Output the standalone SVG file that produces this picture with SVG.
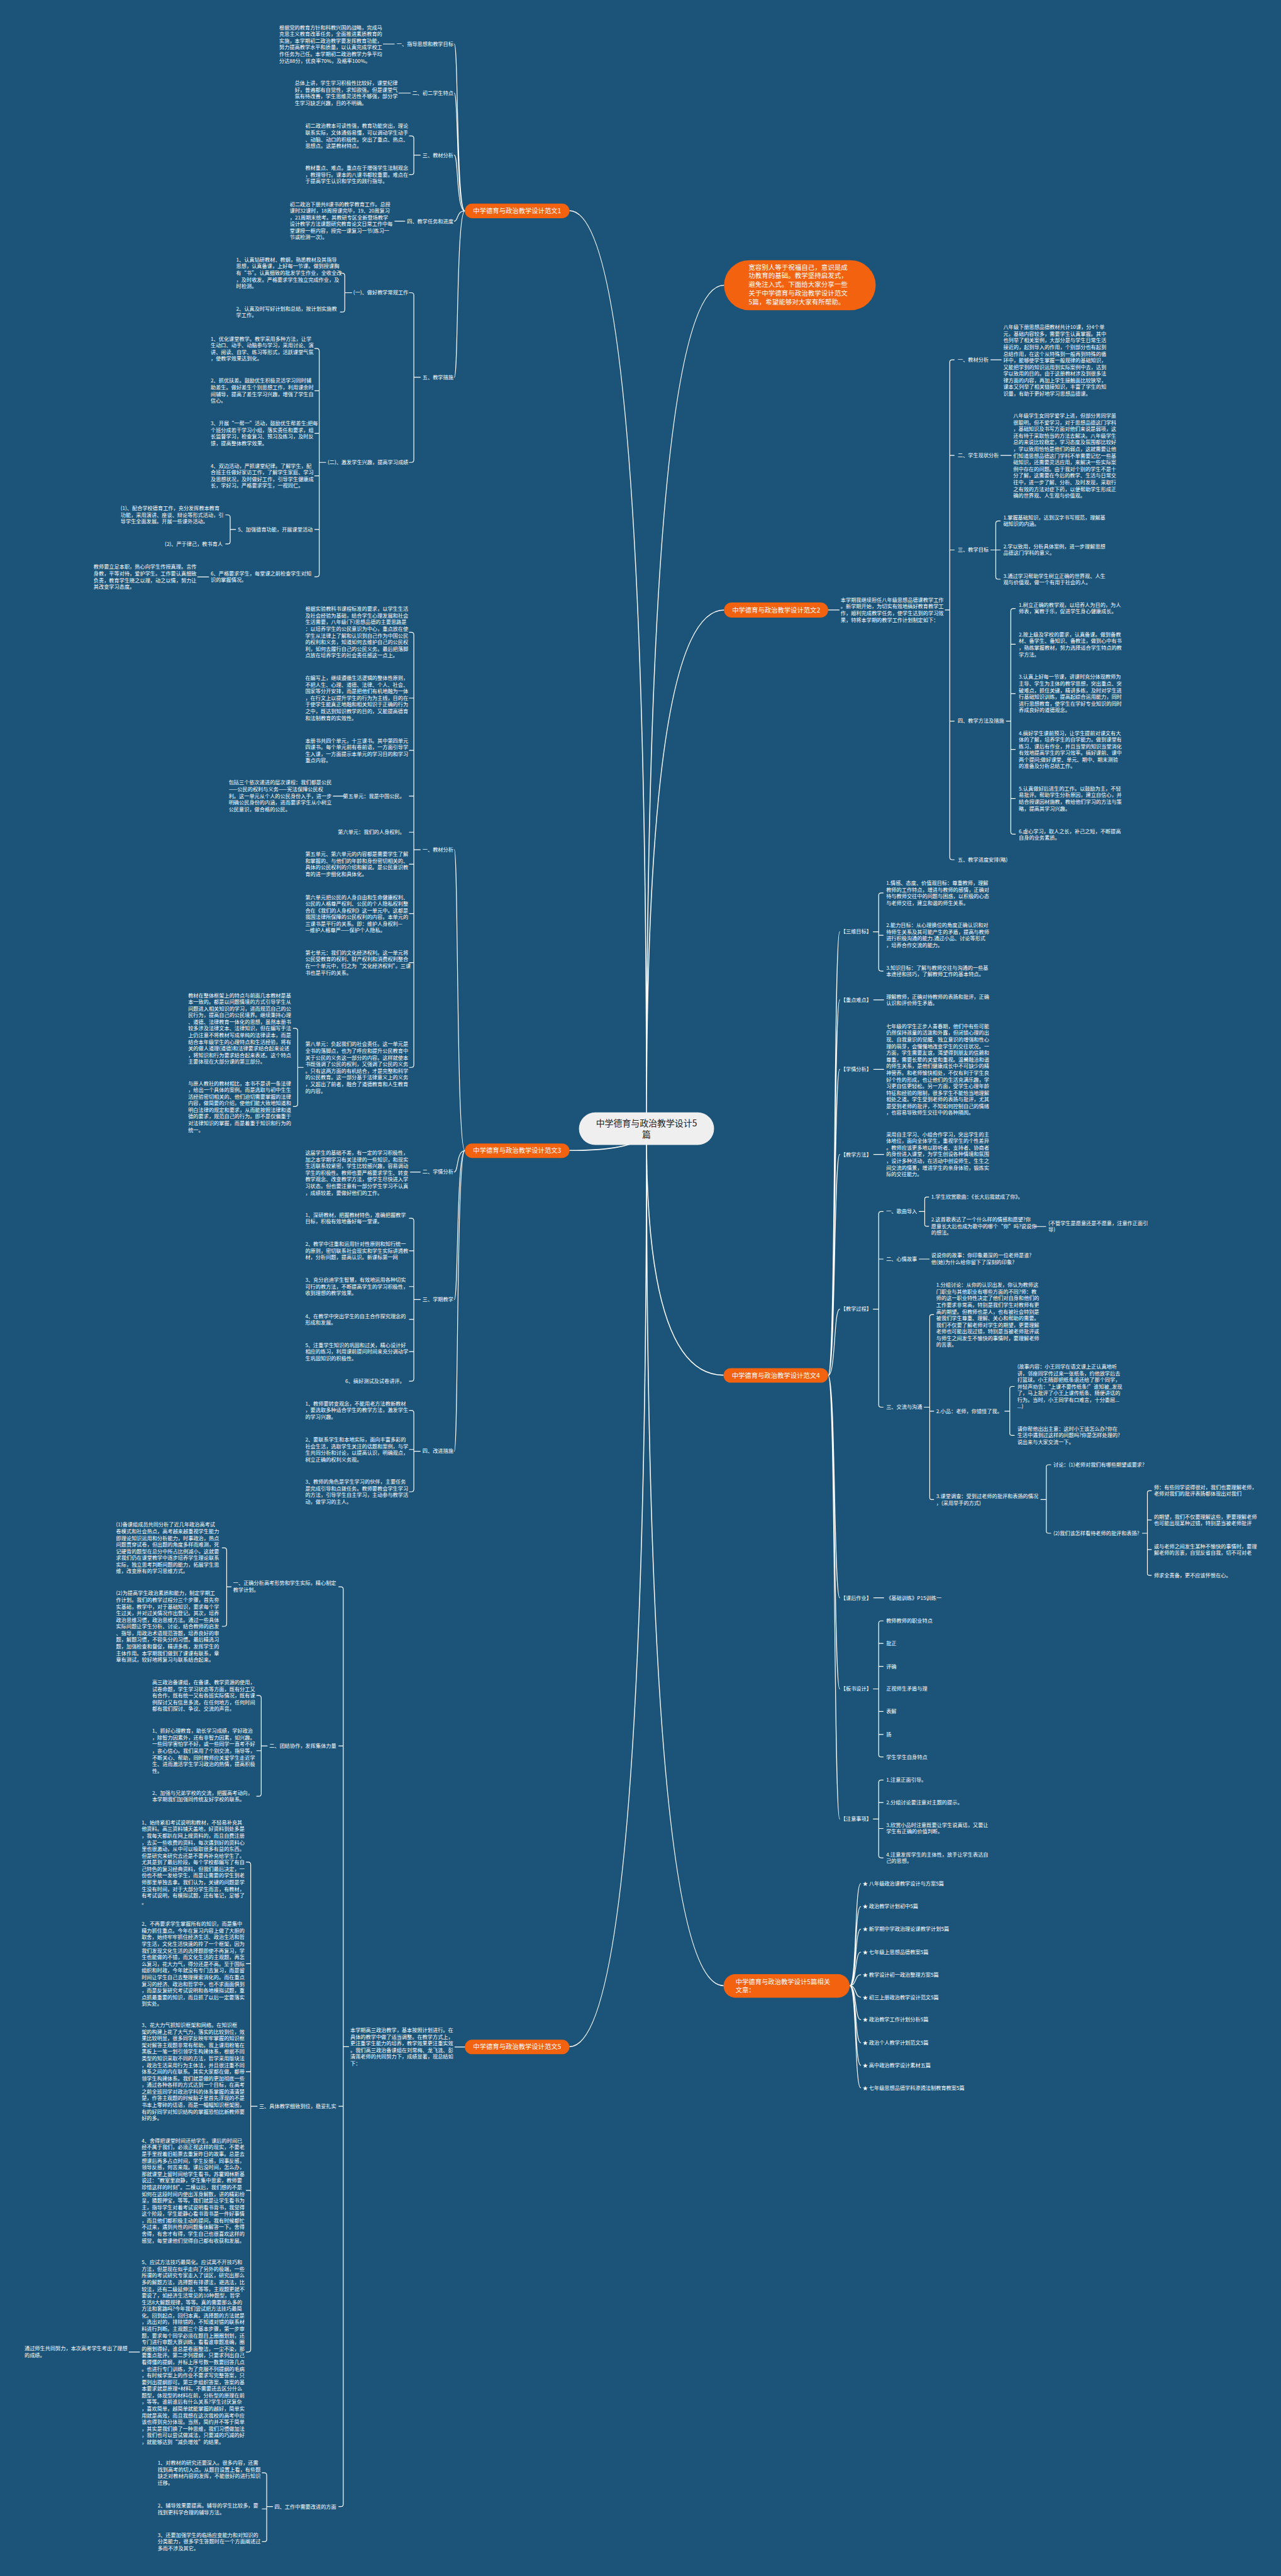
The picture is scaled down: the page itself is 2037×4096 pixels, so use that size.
<svg xmlns="http://www.w3.org/2000/svg" width="2037" height="4096" viewBox="0 0 2037 4096">
<style>
.t{font-family:"Noto Sans CJK SC","Noto Sans",sans-serif;font-size:10.3px;fill:#fff}
.b{font-family:"Noto Sans CJK SC","Noto Sans",sans-serif;font-size:13px;fill:#fff}
.e{text-anchor:end}
.mid{text-anchor:middle}
.c{fill:none;stroke:#fff;stroke-width:1.5;stroke-linecap:round;stroke-linejoin:round}
.m{fill:none;stroke:#fff;stroke-width:2}
.o{fill:#f2620f}
</style>
<rect width="2037" height="4096" fill="#1b5478"/>
<g transform="scale(0.7957)">
<g id="connectors">
<path class="m" d="M1292 2240Q1292 570 1447 570M1292 2240Q1292 1219 1447 1219M1292 2270Q1292 2748 1446 2748M1292 2270Q1292 3968 1446 3968M1292 2240Q1292 421 1138 421M1292 2255Q1292 2299 1138 2299M1292 2270Q1292 4090 1138 4090"/>
<path class="c" d="M929 421.5C912 421.5 916 88 908 88M929 421.5C912 421.5 916 186 908 186M929 421.5C912 421.5 916 310 908 310M929 421.5C912 421.5 916 442 908 442M929 421.5C912 421.5 916 754 908 754"/>
<path class="c" d="M766 88H788M797 186H820M789 442H809M395 1153H417"/>
<path class="c" d="M840 310H827M818 271.5H822Q827 271.5 827 276.5V344Q827 349 822 349H818"/>
<path class="c" d="M840 754H827M818 585H822Q827 585 827 590V919Q827 924 822 924H818"/>
<path class="c" d="M703 585H689M680 546H684Q689 546 689 551V618.5Q689 623.5 684 623.5H680"/>
<path class="c" d="M651 924H638M629 696.5H633Q638 696.5 638 701.5V1147.5Q638 1152.5 633 1152.5H629M638 781H629M638 866H629M638 951H629M638 1058H629"/>
<path class="c" d="M471 1058H460M451 1029H455Q460 1029 460 1034V1082Q460 1087 455 1087H451"/>
<path class="c" d="M929 2299.5C912 2299.5 916 1698 908 1698M929 2299.5C912 2299.5 916 2342 908 2342M929 2299.5C912 2299.5 916 2597 908 2597M929 2299.5C912 2299.5 916 2900 908 2900"/>
<path class="c" d="M840 1698H827M818 1263.5H822Q827 1263.5 827 1268.5V2128Q827 2133 822 2133H818M827 1395H818M827 1499.5H818M827 1591H818M827 1663H818M827 1727H818M827 1825.5H818M827 1923.5H818"/>
<path class="c" d="M666 1591H688"/>
<path class="c" d="M606 2133H595M586 2055H590Q595 2055 595 2060V2206Q595 2211 590 2211H586"/>
<path class="c" d="M820 2342H840"/>
<path class="c" d="M840 2597H827M818 2434.5H822Q827 2434.5 827 2439.5V2755Q827 2760 822 2760H818M827 2499.5H818M827 2571H818M827 2636.5H818M827 2701H818"/>
<path class="c" d="M840 2900H827M818 2818.5H822Q827 2818.5 827 2823.5V2976Q827 2981 822 2981H818M827 2896.5H818"/>
<path class="c" d="M929 4090.5H909"/>
<path class="c" d="M697 4090H686M677 3171H681Q686 3171 686 3176V5004Q686 5009 681 5009H677M686 3489H677M686 4209H677"/>
<path class="c" d="M462 3171H453M444 3093H448Q453 3093 453 3098V3245Q453 3250 448 3250H444"/>
<path class="c" d="M534 3489H522M513 3388H517Q522 3388 522 3393V3584.5Q522 3589.5 517 3589.5H513M522 3498.5H513"/>
<path class="c" d="M514 4209H501M492 3721H496Q501 3721 501 3726V4695Q501 4700 496 4700H492M501 3924H492M501 4140H492M501 4377H492"/>
<path class="c" d="M258 4700H279"/>
<path class="c" d="M545 5009H533M524 4941.5H528Q533 4941.5 533 4946.5V5074Q533 5079 528 5079H524M533 5013.5H524"/>
<path class="c" d="M1655 1219H1677"/>
<path class="c" d="M1889 1219H1898M1907 719H1903Q1898 719 1898 724V1713Q1898 1718 1903 1718H1907M1898 910H1907M1898 1099H1907M1898 1441H1907"/>
<path class="c" d="M1980 719H2001M2000 910H2021"/>
<path class="c" d="M1980 1099H1990M1999 1041H1995Q1990 1041 1990 1046V1152.5Q1990 1157.5 1995 1157.5H1999M1990 1099H1999"/>
<path class="c" d="M2011 1441H2020M2029 1216H2025Q2020 1216 2020 1221V1662Q2020 1667 2025 1667H2029M2020 1287.5H2029M2020 1386H2029M2020 1497.5H2029M2020 1595.5H2029"/>
<path class="c" d="M1655 2748.5C1670 2748.5 1666 1862 1678 1862M1655 2748.5C1670 2748.5 1666 1998 1678 1998M1655 2748.5C1670 2748.5 1666 2137 1678 2137M1655 2748.5C1670 2748.5 1666 2307 1678 2307M1655 2748.5C1670 2748.5 1666 2616 1678 2616M1655 2748.5C1670 2748.5 1666 3193 1678 3193M1655 2748.5C1670 2748.5 1666 3375 1678 3375M1655 2748.5C1670 2748.5 1666 3635 1678 3635"/>
<path class="c" d="M1745 1862H1756M1765 1784.5H1761Q1756 1784.5 1756 1789.5V1935.5Q1756 1940.5 1761 1940.5H1765M1756 1869H1765"/>
<path class="c" d="M1746 1998H1766M1746 2137H1766M1746 2307H1766M1746 3193H1766"/>
<path class="c" d="M1745 2616H1756M1765 2421H1761Q1756 2421 1756 2426V2807Q1756 2812 1761 2812H1765M1756 2516H1765"/>
<path class="c" d="M1837 2421H1848M1856 2392H1852Q1848 2392 1848 2396V2446.5Q1848 2450.5 1852 2450.5H1856"/>
<path class="c" d="M2067 2451H2090M1837 2516H1857"/>
<path class="c" d="M1847 2812H1858M1866 2627H1862Q1858 2627 1858 2631V2992.5Q1858 2996.5 1862 2996.5H1866M1858 2820H1866"/>
<path class="c" d="M2008 2820H2018M2027 2770.5H2023Q2018 2770.5 2018 2774.5V2864.5Q2018 2868.5 2023 2868.5H2027"/>
<path class="c" d="M2080 2996.5H2091M2100 2927H2096Q2091 2927 2091 2931V3060Q2091 3064 2096 3064H2100"/>
<path class="c" d="M2283 3064H2293M2301 2979H2297Q2293 2979 2293 2983V3144Q2293 3148 2297 3148H2301M2293 3037.5H2301M2293 3096.5H2301"/>
<path class="c" d="M1745 3375H1756M1765 3239H1761Q1756 3239 1756 3244V3506Q1756 3511 1761 3511H1765M1756 3284H1765M1756 3330H1765M1756 3420H1765M1756 3466H1765"/>
<path class="c" d="M1745 3635H1756M1765 3557H1761Q1756 3557 1756 3562V3707.5Q1756 3712.5 1761 3712.5H1765M1756 3602H1765M1756 3654H1765"/>
<path class="c" d="M1698 3968C1712 3968 1708 3764 1720 3764M1698 3968C1712 3968 1708 3810 1720 3810M1698 3968C1712 3968 1708 3855 1720 3855M1698 3968C1712 3968 1708 3901 1720 3901M1698 3968C1712 3968 1708 3946 1720 3946M1698 3968C1712 3968 1708 3991 1720 3991M1698 3968C1712 3968 1708 4036 1720 4036M1698 3968C1712 3968 1708 4082 1720 4082M1698 3968C1712 3968 1708 4127 1720 4127M1698 3968C1712 3968 1708 4172 1720 4172"/>
</g>

<g id="center"><rect x="1157" y="2223" width="270" height="65" rx="32.5" fill="#efefef"/><text x="1292" y="2251" class="mid" style="font-family:'Noto Sans CJK SC',sans-serif;font-size:17.5px;fill:#222"><tspan x="1292">中学德育与政治教学设计5</tspan><tspan x="1292" dy="23">篇</tspan></text></g>

<g id="intro"><rect x="1447" y="520" width="303" height="100" rx="50" class="o"/><text style="font-family:'Noto Sans CJK SC',sans-serif;font-size:13.2px;fill:#fff" x="1496" y="538.6"><tspan x="1496">宽容别人等于祝福自己，意识是成</tspan><tspan x="1496" dy="17.5">功教育的基础。教学坚持启发式，</tspan><tspan x="1496" dy="17.5">避免注入式。下面给大家分享一些</tspan><tspan x="1496" dy="17.5">关于中学德育与政治教学设计范文</tspan><tspan x="1496" dy="17.5">5篇，希望能够对大家有所帮助。</tspan></text></g>

<g id="fan1"><rect x="929" y="407" width="209" height="29" rx="14.5" class="o"/><text class="b mid" x="1033.5" y="426">中学德育与政治教学设计范文1</text></g>
<g id="f1-l1"><text class="t e" x="906" y="91.6">一、指导思想和教学目标</text></g>
<g id="f1-l2"><text class="t e" x="906" y="189.6">二、初二学生特点</text></g>
<g id="f1-l3"><text class="t e" x="906" y="313.6">三、教材分析</text></g>
<g id="f1-l4"><text class="t e" x="906" y="445.6">四、教学任务和进度</text></g>
<g id="f1-l5"><text class="t e" x="906" y="757.6">五、教学措施</text></g>
<g id="f1-b1"><text class="t" x="558" y="58.6"><tspan x="558">根据党的教育方针和科教兴国的战略，完成马</tspan><tspan x="558" dy="13.3">克思主义教育改革任务，全面推进素质教育的</tspan><tspan x="558" dy="13.3">实施，本学期初二政治教学要发挥教育功能，</tspan><tspan x="558" dy="13.3">努力提高教学水平和质量，以认真完成学校工</tspan><tspan x="558" dy="13.3">作任务为己任。本学期初二政治教学力争平均</tspan><tspan x="558" dy="13.3">分达88分，优良率70%，及格率100%。</tspan></text></g>
<g id="f1-b2"><text class="t" x="589" y="169.6"><tspan x="589">总体上讲，学生学习积极性比较好，课堂纪律</tspan><tspan x="589" dy="13.3">好，普遍都有自觉性，求知欲强。但是课堂气</tspan><tspan x="589" dy="13.3">氛有待改善，学生思维灵活性不够强，部分学</tspan><tspan x="589" dy="13.3">生学习缺乏兴趣，目的不明确。</tspan></text></g>
<g id="f1-b3a"><text class="t" x="610" y="255.6"><tspan x="610">初二政治教本可读性强，教育功能突出，理论</tspan><tspan x="610" dy="13.3">联系实际，文体通俗易懂，可以调动学生动手</tspan><tspan x="610" dy="13.3">、动脑、动口的积极性。突出了重点、热点、</tspan><tspan x="610" dy="13.3">思想点。这是教材特点。</tspan></text></g>
<g id="f1-b3b"><text class="t" x="610" y="339.6"><tspan x="610">教材重点、难点。重点在于增强学生法制观念</tspan><tspan x="610" dy="13.3">，教理导行。课本的八课书都较重要。难点在</tspan><tspan x="610" dy="13.3">于提高学生认识和学生的践行指导。</tspan></text></g>
<g id="f1-b4"><text class="t" x="579" y="411.6"><tspan x="579">初二政治下册共8课书的教学教育工作。总授</tspan><tspan x="579" dy="13.3">课时32课时，18周授课完毕，19、20周复习</tspan><tspan x="579" dy="13.3">，21周期末统考。其教研专区全新登场教学</tspan><tspan x="579" dy="13.3">设计教学方法课题研究教育论文日常工作中每</tspan><tspan x="579" dy="13.3">堂课授一框内容，授完一课复习一节(练习一</tspan><tspan x="579" dy="13.3">节或检测一次)。</tspan></text></g>
<g id="f1-s1"><text class="t e" x="816" y="588.6">(一)、做好教学常规工作</text></g>
<g id="f1-s1a"><text class="t" x="472" y="522.6"><tspan x="472">1、认真钻研教材、教纲，熟悉教材及其指导</tspan><tspan x="472" dy="13.3">思想，认真备课，上好每一节课。做到授课胸</tspan><tspan x="472" dy="13.3">有“书”。认真细致的批发学生作业，全收全改</tspan><tspan x="472" dy="13.3">，及时收发。严格要求学生独立完成作业，及</tspan><tspan x="472" dy="13.3">时检测。</tspan></text></g>
<g id="f1-s1b"><text class="t" x="472" y="620.6"><tspan x="472">2、认真及时写好计划和总结，按计划实施教</tspan><tspan x="472" dy="13.3">学工作。</tspan></text></g>
<g id="f1-s2"><text class="t e" x="816" y="927.6">(二)、激发学生兴趣，提高学习成绩</text></g>
<g id="f1-s2a"><text class="t" x="421" y="680.6"><tspan x="421">1、优化课堂教学。教学采用多种方法，让学</tspan><tspan x="421" dy="13.3">生动口、动手、动脑参与学习，采用讨论、演</tspan><tspan x="421" dy="13.3">讲、阅读、自学、练习等形式，活跃课堂气氛</tspan><tspan x="421" dy="13.3">，使教学效果达到化。</tspan></text></g>
<g id="f1-s2b"><text class="t" x="421" y="764.6"><tspan x="421">2、抓优扶差。鼓励优生积极灵活学习同时辅</tspan><tspan x="421" dy="13.3">助差生。做好差生个别思想工作，利用课余时</tspan><tspan x="421" dy="13.3">间辅导，提高了差生学习兴趣，增强了学生自</tspan><tspan x="421" dy="13.3">信心。</tspan></text></g>
<g id="f1-s2c"><text class="t" x="421" y="849.6"><tspan x="421">3、开展“一帮一”活动，鼓励优生帮差生;把每</tspan><tspan x="421" dy="13.3">个班分成若干学习小组，落实责任和要求，组</tspan><tspan x="421" dy="13.3">长监督学习，检查复习、预习及练习，及时反</tspan><tspan x="421" dy="13.3">馈，提高整体教学效果。</tspan></text></g>
<g id="f1-s2d"><text class="t" x="421" y="934.6"><tspan x="421">4、双边活动，严抓课堂纪律。了解学生，配</tspan><tspan x="421" dy="13.3">合班主任做好家访工作，了解学生家庭、学习</tspan><tspan x="421" dy="13.3">及思想状况，及时做好工作，引导学生健康成</tspan><tspan x="421" dy="13.3">长，学好习。严格要求学生，一视同仁。</tspan></text></g>
<g id="f1-s2e"><text class="t e" x="625" y="1061.6">5、加强德育功能，开展课堂活动</text></g>
<g id="f1-s2e1"><text class="t" x="241" y="1019.6"><tspan x="241">(1)、配合学校德育工作，充分发挥教本教育</tspan><tspan x="241" dy="13.3">功能，采用演讲、座谈、辩论等形式活动，引</tspan><tspan x="241" dy="13.3">导学生全面发展。开展一些课外活动。</tspan></text></g>
<g id="f1-s2e2"><text class="t e" x="445" y="1090.6">(2)、严于律己，教书育人</text></g>
<g id="f1-s2f"><text class="t" x="421" y="1149.6"><tspan x="421">6、严格要求学生，每堂课之前检查学生对知</tspan><tspan x="421" dy="13.3">识的掌握情况。</tspan></text></g>
<g id="f1-s2f1"><text class="t" x="187" y="1136.6"><tspan x="187">教师要立足本职，热心向学生传授真理。言传</tspan><tspan x="187" dy="13.3">身教，平等对待，爱护学生。工作要认真细致</tspan><tspan x="187" dy="13.3">负责，教育学生晓之以理，动之以情，努力让</tspan><tspan x="187" dy="13.3">其改变学习态度。</tspan></text></g>

<g id="fan3"><rect x="929" y="2285" width="209" height="29" rx="14.5" class="o"/><text class="b mid" x="1033.5" y="2304">中学德育与政治教学设计范文3</text></g>
<g id="f3-l1"><text class="t e" x="906" y="1701.6">一、教材分析</text></g>
<g id="f3-l2"><text class="t e" x="906" y="2345.6">二、学情分析</text></g>
<g id="f3-l3"><text class="t e" x="906" y="2600.6">三、学期教学</text></g>
<g id="f3-l4"><text class="t e" x="906" y="2903.6">四、改进措施</text></g>
<g id="f3-a"><text class="t" x="610" y="1220.6"><tspan x="610">根据实验教科书课程标准的要求，以学生生活</tspan><tspan x="610" dy="13.3">及社会经验为基础，结合学生心理发展和社会</tspan><tspan x="610" dy="13.3">生活需要，八年级(下)思想品德的主要思路是</tspan><tspan x="610" dy="13.3">：以培养学生的公民意识为中心，重点放在使</tspan><tspan x="610" dy="13.3">学生从法律上了解和认识到自己作为中国公民</tspan><tspan x="610" dy="13.3">的权利和义务，知道如何去维护自己的公民权</tspan><tspan x="610" dy="13.3">利，如何去履行自己的公民义务。最后把落脚</tspan><tspan x="610" dy="13.3">点放在培养学生的社会责任感这一点上。</tspan></text></g>
<g id="f3-b"><text class="t" x="610" y="1358.6"><tspan x="610">在编写上，继续遵循生活逻辑的整体性原则，</tspan><tspan x="610" dy="13.3">不把人生、心理、道德、法律、个人、社会、</tspan><tspan x="610" dy="13.3">国家等分开安排，而是把他们有机地融为一体</tspan><tspan x="610" dy="13.3">，在行文上以提升学生的行为为主线，目的在</tspan><tspan x="610" dy="13.3">于使学生能真正地融和相关知识于正确的行为</tspan><tspan x="610" dy="13.3">之中，既达到知识教学的目的，又能提高德育</tspan><tspan x="610" dy="13.3">和法制教育的实效性。</tspan></text></g>
<g id="f3-c"><text class="t" x="610" y="1483.6"><tspan x="610">本册书共四个单元，十三课书。其中第四单元</tspan><tspan x="610" dy="13.3">四课书。每个单元前有卷前语，一方面引导学</tspan><tspan x="610" dy="13.3">生入课，一方面提示本单元的学习目的和学习</tspan><tspan x="610" dy="13.3">重点内容。</tspan></text></g>
<g id="f3-d"><text class="t e" x="809" y="1594.6">第五单元：我是中国公民。</text></g>
<g id="f3-d1"><text class="t" x="457" y="1567.6"><tspan x="457">包括三个依次递进的层次课程：我们都是公民</tspan><tspan x="457" dy="13.3">——公民的权利与义务——宪法保障公民权</tspan><tspan x="457" dy="13.3">利。这一单元从个人的公民身份入手，进一步</tspan><tspan x="457" dy="13.3">明确公民身份的内涵，进而要求学生从小树立</tspan><tspan x="457" dy="13.3">公民意识，做合格的公民。</tspan></text></g>
<g id="f3-e"><text class="t e" x="809" y="1666.6">第六单元：我们的人身权利。</text></g>
<g id="f3-f"><text class="t" x="610" y="1710.6"><tspan x="610">第五单元、第六单元的内容都是需要学生了解</tspan><tspan x="610" dy="13.3">和掌握的、与他们的年龄和身份密切相关的、</tspan><tspan x="610" dy="13.3">具体的公民权利的介绍和解说。是公民意识教</tspan><tspan x="610" dy="13.3">育的进一步细化和具体化。</tspan></text></g>
<g id="f3-g"><text class="t" x="610" y="1796.6"><tspan x="610">第六单元把公民的人身自由和生命健康权利、</tspan><tspan x="610" dy="13.3">公民的人格尊严权利、公民的个人隐私权利整</tspan><tspan x="610" dy="13.3">合在《我们的人身权利》这一单元中。这都是</tspan><tspan x="610" dy="13.3">我国法律所保障的公民权利的内容。本单元的</tspan><tspan x="610" dy="13.3">三课书是平行的关系。即：维护人身权利—</tspan><tspan x="610" dy="13.3">—维护人格尊严——保护个人隐私。</tspan></text></g>
<g id="f3-h"><text class="t" x="610" y="1907.6"><tspan x="610">第七单元：我们的文化经济权利。这一单元将</tspan><tspan x="610" dy="13.3">公民受教育的权利、财产权利和消费权利整合</tspan><tspan x="610" dy="13.3">在一个单元中，归之为“文化经济权利”。三课</tspan><tspan x="610" dy="13.3">书也是平行的关系。</tspan></text></g>
<g id="f3-i"><text class="t" x="610" y="2090.6"><tspan x="610">第八单元：负起我们的社会责任。这一单元是</tspan><tspan x="610" dy="13.3">全书的落脚点，也为了呼应和提升公民教育中</tspan><tspan x="610" dy="13.3">关于公民的义务这一部分的内容。这样就使本</tspan><tspan x="610" dy="13.3">书既强调了公民的权利，又强调了公民的义务</tspan><tspan x="610" dy="13.3">。只有这两方面的有机结合，才是完整和科学</tspan><tspan x="610" dy="13.3">的公民教育。这一部分基于法律意义上的义务</tspan><tspan x="610" dy="13.3">，又超出了前者，融合了道德教育和人生教育</tspan><tspan x="610" dy="13.3">的内容。</tspan></text></g>
<g id="f3-i1"><text class="t" x="376" y="1992.6"><tspan x="376">教材在整体框架上的特点与前面几本教材是基</tspan><tspan x="376" dy="13.3">本一致的。都是以问题情境的方式引导学生从</tspan><tspan x="376" dy="13.3">问题进入相关知识的学习，进而规范自己的公</tspan><tspan x="376" dy="13.3">民行为，提高自己的公民境界。继续秉持心理</tspan><tspan x="376" dy="13.3">、道德、法律教育一体化的思想，虽然本册书</tspan><tspan x="376" dy="13.3">较多涉及法律文本、法律知识，但在编写手法</tspan><tspan x="376" dy="13.3">上仍注意不将教材写成单纯的法律读本，而是</tspan><tspan x="376" dy="13.3">结合本年级学生的心理特点和生活经验，将有</tspan><tspan x="376" dy="13.3">关的做人道理(道德)和法律要求结合起来论述</tspan><tspan x="376" dy="13.3">，将知识和行为要求结合起来表述。这个特点</tspan><tspan x="376" dy="13.3">主要体现在大部分课的第三部分。</tspan></text></g>
<g id="f3-i2"><text class="t" x="376" y="2168.6"><tspan x="376">与原人教社的教材相比，本书不是讲一条法律</tspan><tspan x="376" dy="13.3">，给出一个具体的案例。而是选取与初中生生</tspan><tspan x="376" dy="13.3">活经验密切相关的、他们迫切需要掌握的法律</tspan><tspan x="376" dy="13.3">内容，做简要的介绍，使他们能大致地知道和</tspan><tspan x="376" dy="13.3">明白法律的规定和要求，从而能按照法律和道</tspan><tspan x="376" dy="13.3">德的要求，规范自己的行为。即不是仅偏重于</tspan><tspan x="376" dy="13.3">对法律知识的掌握，而是着重于知识和行为的</tspan><tspan x="376" dy="13.3">统一。</tspan></text></g>
<g id="f3-2a"><text class="t" x="610" y="2307.6"><tspan x="610">这届学生的基础不差，有一定的学习积极性，</tspan><tspan x="610" dy="13.3">加之本学期学习有关法律的一些知识，和现实</tspan><tspan x="610" dy="13.3">生活联系较紧密，学生比较感兴趣，容易调动</tspan><tspan x="610" dy="13.3">学生的积极性。教师也要严格要求学生、转变</tspan><tspan x="610" dy="13.3">教学观念、改变教学方法，使学生尽快进入学</tspan><tspan x="610" dy="13.3">习状态。但也要注意有一部分学生学习不认真</tspan><tspan x="610" dy="13.3">，成绩较差，要做好他们的工作。</tspan></text></g>
<g id="f3-3a"><text class="t" x="610" y="2431.6"><tspan x="610">1、深研教材，把握教材特色，准确把握教学</tspan><tspan x="610" dy="13.3">目标，积极有效地备好每一堂课。</tspan></text></g>
<g id="f3-3b"><text class="t" x="610" y="2489.6"><tspan x="610">2、教学中注重和运用针对性原则和知行统一</tspan><tspan x="610" dy="13.3">的原则，密切联系社会现实和学生实际讲透教</tspan><tspan x="610" dy="13.3">材，分析问题，提高认识。新课标第一网</tspan></text></g>
<g id="f3-3c"><text class="t" x="610" y="2561.6"><tspan x="610">3、充分启迪学生智慧，有效地运用各种切实</tspan><tspan x="610" dy="13.3">可行的教方法，不断提高学生的学习积极性，</tspan><tspan x="610" dy="13.3">收到理想的教学效果。</tspan></text></g>
<g id="f3-3d"><text class="t" x="610" y="2633.6"><tspan x="610">4、在教学中突出学生的自主合作探究理念的</tspan><tspan x="610" dy="13.3">形成和发展。</tspan></text></g>
<g id="f3-3e"><text class="t" x="610" y="2691.6"><tspan x="610">5、注重学生知识的巩固和过关，精心设计好</tspan><tspan x="610" dy="13.3">相应的练习，利用课前提问时间来充分调动学</tspan><tspan x="610" dy="13.3">生巩固知识的积极性。</tspan></text></g>
<g id="f3-3f"><text class="t e" x="809" y="2763.6">6、搞好测试及试卷讲评。</text></g>
<g id="f3-4a"><text class="t" x="610" y="2808.6"><tspan x="610">1、教师要转变观念，不能用老方法教新教材</tspan><tspan x="610" dy="13.3">，要选取多种适合学生的教学方法，激发学生</tspan><tspan x="610" dy="13.3">的学习兴趣。</tspan></text></g>
<g id="f3-4b"><text class="t" x="610" y="2880.6"><tspan x="610">2、要联系学生和本地实际，面向丰富多彩的</tspan><tspan x="610" dy="13.3">社会生活，选取学生关注的话题和案例，与学</tspan><tspan x="610" dy="13.3">生共同分析和讨论，以提高认识，明确观点，</tspan><tspan x="610" dy="13.3">树立正确的权利义务观。</tspan></text></g>
<g id="f3-4c"><text class="t" x="610" y="2964.6"><tspan x="610">3、教师的角色是学生学习的伙伴，主要任务</tspan><tspan x="610" dy="13.3">是完成引导和点拨任务。教师要教会学生学习</tspan><tspan x="610" dy="13.3">的方法，引导学生自主学习，主动参与教学活</tspan><tspan x="610" dy="13.3">动，做学习的主人。</tspan></text></g>

<g id="fan5"><rect x="929" y="4076" width="209" height="29" rx="14.5" class="o"/><text class="b mid" x="1033.5" y="4095">中学德育与政治教学设计范文5</text></g>
<g id="f5-intro"><text class="t" x="700" y="4060.6"><tspan x="700">本学期高三政治教学，基本按照计划进行。在</tspan><tspan x="700" dy="13.3">具体的教学中做了适当调整。在教学方式上，</tspan><tspan x="700" dy="13.3">更注重学生能力的培养，教学效果更注重实效</tspan><tspan x="700" dy="13.3">。我们高三政治备课组在刘常梅、龙飞涟、彭</tspan><tspan x="700" dy="13.3">清莲老师的共同努力下，成绩显著，现总结如</tspan><tspan x="700" dy="13.3">下：</tspan></text></g>
<g id="f5-l1"><text class="t" x="466" y="3167.6"><tspan x="466">一、正确分析高考形势和学生实际，精心制定</tspan><tspan x="466" dy="13.3">教学计划。</tspan></text></g>
<g id="f5-1a"><text class="t" x="232" y="3050.6"><tspan x="232">(1)备课组成员共同分析了近几年政治高考试</tspan><tspan x="232" dy="13.3">卷模式和社会热点，高考越来越重视学生能力</tspan><tspan x="232" dy="13.3">即理论知识运用和分析能力，时事政治，热点</tspan><tspan x="232" dy="13.3">问题贯穿试卷，但出题的角度多样而难测，死</tspan><tspan x="232" dy="13.3">记硬背的题型在总分中所占比例减小，这就要</tspan><tspan x="232" dy="13.3">求我们仍在课堂教学中逐步培养学生理论联系</tspan><tspan x="232" dy="13.3">实际，独立思考判断问题的能力，拓展学生思</tspan><tspan x="232" dy="13.3">维，改变原有的学习思维方式。</tspan></text></g>
<g id="f5-1b"><text class="t" x="232" y="3187.6"><tspan x="232">(2)为提高学生政治素质和能力，制定学期工</tspan><tspan x="232" dy="13.3">作计划。我们的教学过程分三个步骤，首先夯</tspan><tspan x="232" dy="13.3">实基础，教学中，对于基础知识，要求每个学</tspan><tspan x="232" dy="13.3">生过关，并对过关情况作出登记。其次，培养</tspan><tspan x="232" dy="13.3">政治思维习惯，政治思维方法。通过一些具体</tspan><tspan x="232" dy="13.3">实际问题让学生分析、讨论，结合教师的启发</tspan><tspan x="232" dy="13.3">、指导，用政治术语规范答题，培养良好的审</tspan><tspan x="232" dy="13.3">题，解题习惯，不容失分的习惯。最后精选习</tspan><tspan x="232" dy="13.3">题，加强检查和督促，精讲多练，发挥学生的</tspan><tspan x="232" dy="13.3">主体作用。本学期我们做到了课课有联系，章</tspan><tspan x="232" dy="13.3">章有测试，较好地将复习与联系结合起来。</tspan></text></g>
<g id="f5-l2"><text class="t e" x="672" y="3492.6">二、团结协作，发挥集体力量</text></g>
<g id="f5-2a"><text class="t" x="304" y="3365.6"><tspan x="304">高三政治备课组，在备课、教学资源的使用，</tspan><tspan x="304" dy="13.3">试卷命题，学生学习状态等方面，既有分工又</tspan><tspan x="304" dy="13.3">有合作，既有统一又有各班实际情况，既有课</tspan><tspan x="304" dy="13.3">例探讨又有信息多流，在任何地方，任何时间</tspan><tspan x="304" dy="13.3">都有我们探讨、争议、交流的声音。</tspan></text></g>
<g id="f5-2b"><text class="t" x="304" y="3462.6"><tspan x="304">1、抓好心理教育，助长学习成绩，学好政治</tspan><tspan x="304" dy="13.3">，除智力因素外，还有非智力因素，如兴趣。</tspan><tspan x="304" dy="13.3">一些同学害怕学不好，或一些同学一直考不好</tspan><tspan x="304" dy="13.3">，丧心信心。我们采用了个别交流，指导等，</tspan><tspan x="304" dy="13.3">不断关心、帮助，同时教师应关爱学生走近学</tspan><tspan x="304" dy="13.3">生、进而激活学生学习政治的热情，提高积极</tspan><tspan x="304" dy="13.3">性。</tspan></text></g>
<g id="f5-2c"><text class="t" x="304" y="3586.6"><tspan x="304">2、加强与兄弟学校的交流，把握高考动向，</tspan><tspan x="304" dy="13.3">本学期我们加强同传统友好学校的联系。</tspan></text></g>
<g id="f5-l3"><text class="t e" x="672" y="4212.6">三、具体教学细致到位，稳妥扎实</text></g>
<g id="f5-3a"><text class="t" x="283" y="3645.6"><tspan x="283">1、始终紧扣考试说明和教材，不轻易补充其</tspan><tspan x="283" dy="13.3">他资料。高三资料铺天盖地，好资料到处多是</tspan><tspan x="283" dy="13.3">，我每天都趴在网上搜资料的，而且自费注册</tspan><tspan x="283" dy="13.3">，去买一些收费的资料，每次遇到好的资料心</tspan><tspan x="283" dy="13.3">里也很激动，从中可以吸取很多有益的东西。</tspan><tspan x="283" dy="13.3">但是研究来研究去还是不要再补充给学生了。</tspan><tspan x="283" dy="13.3">尤其是到了最后阶段，每个学校都编写了有自</tspan><tspan x="283" dy="13.3">己特色的复习经典资料，但我们最后决定，一</tspan><tspan x="283" dy="13.3">份也不统一发给学生，而是让需要的学生到老</tspan><tspan x="283" dy="13.3">师那里单独去拿。我们认为，关键的问题是学</tspan><tspan x="283" dy="13.3">生没有时间，对于大部分学生而言，有教材，</tspan><tspan x="283" dy="13.3">有考试说明，有模拟试题，还有笔记，足够了</tspan><tspan x="283" dy="13.3">。</tspan></text></g>
<g id="f5-3b"><text class="t" x="283" y="3848.6"><tspan x="283">2、不再要求学生掌握所有的知识，而是集中</tspan><tspan x="283" dy="13.3">精力抓住重点。今年在复习内容上做了大胆的</tspan><tspan x="283" dy="13.3">取舍，始终牢牢抓住经济生活、政治生活和哲</tspan><tspan x="283" dy="13.3">学生活，文化生活快速的拎了一个框架，因为</tspan><tspan x="283" dy="13.3">我们发现文化生活的选择题即使不再复习，学</tspan><tspan x="283" dy="13.3">生也能做的不错，而文化生活的主观题，再怎</tspan><tspan x="283" dy="13.3">么复习，花大力气，得分还是不高。至于国际</tspan><tspan x="283" dy="13.3">组织和时政，今年就没有专门去复习，而是留</tspan><tspan x="283" dy="13.3">时间让学生自己去整理摸索消化的。而在重点</tspan><tspan x="283" dy="13.3">复习的经济、政治和哲学中，也不求面面俱到</tspan><tspan x="283" dy="13.3">，而是反复研究考试说明和各地模拟试题，重</tspan><tspan x="283" dy="13.3">点抓最重要的知识，而且抓了以后一定要落实</tspan><tspan x="283" dy="13.3">到实处。</tspan></text></g>
<g id="f5-3c"><text class="t" x="283" y="4050.6"><tspan x="283">3、花大力气抓知识框架和网络。在知识框</tspan><tspan x="283" dy="13.3">架的构建上花了大气力，落实的比较到位，效</tspan><tspan x="283" dy="13.3">果比较明显，很多同学反映牢牢掌握的知识框</tspan><tspan x="283" dy="13.3">架对解答主观题非常有帮助。我上课用粉笔在</tspan><tspan x="283" dy="13.3">黑板上一笔一划引领学生构建体系，根据不同</tspan><tspan x="283" dy="13.3">类型的知识采取不同的方法，哲学采用版块法</tspan><tspan x="283" dy="13.3">，政治生活采用行为主体法，并且很注重不同</tspan><tspan x="283" dy="13.3">体系之间的内在联系。其实大家都在做，都带</tspan><tspan x="283" dy="13.3">领学生构建体系。我们就是做的更加彻底一些</tspan><tspan x="283" dy="13.3">，通过各种各样的方式达到一个目标，在高考</tspan><tspan x="283" dy="13.3">之前全班同学对政治学科的体系掌握的清清楚</tspan><tspan x="283" dy="13.3">楚，作答主观题的时候脑子里首先浮现的不是</tspan><tspan x="283" dy="13.3">书本上零碎的话语，而是一幅幅知识框架图，</tspan><tspan x="283" dy="13.3">有的好同学对知识结构的掌握恐怕比新教师要</tspan><tspan x="283" dy="13.3">好的多。</tspan></text></g>
<g id="f5-3d"><text class="t" x="283" y="4281.6"><tspan x="283">4、舍得把课堂时间还给学生。课后的时间已</tspan><tspan x="283" dy="13.3">经不属于我们，必须正视这样的现实，不要老</tspan><tspan x="283" dy="13.3">是手里捏着旧船票去重复昨日的故事。总是去</tspan><tspan x="283" dy="13.3">想课后再多占点时间，学生反感，同事反感，</tspan><tspan x="283" dy="13.3">领导反感，何苦来哉。课后没时间，怎么办，</tspan><tspan x="283" dy="13.3">那就课堂上留时间给学生看书，苏霍姆林斯基</tspan><tspan x="283" dy="13.3">说过：“教室里寂静，学生集中思索，教师要</tspan><tspan x="283" dy="13.3">珍惜这样的时刻”。二模以后，我们想的不是</tspan><tspan x="283" dy="13.3">如何在这段时间内使出浑身解数，讲的精彩纷</tspan><tspan x="283" dy="13.3">呈，猜题押宝，等等。我们就是让学生看书为</tspan><tspan x="283" dy="13.3">主，指导学生对着考试说明看书背书，我觉得</tspan><tspan x="283" dy="13.3">这个阶段，学生能静心看书背书是一件好事情</tspan><tspan x="283" dy="13.3">，而且他们都积极主动的提问，我有时候都忙</tspan><tspan x="283" dy="13.3">不过来，遇到共性的问题集体解答一下。舍得</tspan><tspan x="283" dy="13.3">舍得，有舍才有得，学生自己也很喜欢这样的</tspan><tspan x="283" dy="13.3">感觉，每堂课他们觉得自己都有收获和发展。</tspan></text></g>
<g id="f5-3e"><text class="t" x="283" y="4524.6"><tspan x="283">5、应试方法技巧最简化。应试离不开技巧和</tspan><tspan x="283" dy="13.3">方法，但是现在似乎走向了另外的极端，一些</tspan><tspan x="283" dy="13.3">所谓的考试研究专家走入了误区，研究出那么</tspan><tspan x="283" dy="13.3">多的解题方法，选择题有排谬法，避选法，比</tspan><tspan x="283" dy="13.3">较法，还有二级延伸法，等等，主观题更就不</tspan><tspan x="283" dy="13.3">要说了，如经济生活常见的10种题型，哲学</tspan><tspan x="283" dy="13.3">生活8大解题规律，等等。真的需要那么多的</tspan><tspan x="283" dy="13.3">方法和套路吗?今年我们尝试把方法技巧最简</tspan><tspan x="283" dy="13.3">化。回到起点，回归本真。选择题的方法就是</tspan><tspan x="283" dy="13.3">，选出对的，排除错的，不知道对错的联系材</tspan><tspan x="283" dy="13.3">料进行判断。主观题三个基本步骤，第一步审</tspan><tspan x="283" dy="13.3">题，要求每个同学必须在题目上圈圈划划，还</tspan><tspan x="283" dy="13.3">专门进行审题大赛训练，看看谁审题准确，圈</tspan><tspan x="283" dy="13.3">的圈划得好，谁总是卷面整洁，一尘不染，那</tspan><tspan x="283" dy="13.3">要重点批评。第二步列提纲，只要求列出自己</tspan><tspan x="283" dy="13.3">看得懂的提纲，并标上序号数一数要回答几点</tspan><tspan x="283" dy="13.3">。也进行专门训练，为了克服不列提纲的毛病</tspan><tspan x="283" dy="13.3">，有时候学案上的作业不要求写完整答案，只</tspan><tspan x="283" dy="13.3">要列出提纲即可。第三步组织答案，答案的基</tspan><tspan x="283" dy="13.3">本要求就是原理+材料。不需要还去区分什么</tspan><tspan x="283" dy="13.3">题型，体现型的材料在前，分析型的原理在前</tspan><tspan x="283" dy="13.3">，等等。谁前谁后有什么关系?学生讨厌复杂</tspan><tspan x="283" dy="13.3">，喜欢简单，越简单就能掌握的越好，简单实</tspan><tspan x="283" dy="13.3">用就是高效，而且我想在这次我校的高考中应</tspan><tspan x="283" dy="13.3">该也得到充分体现。当然，简约并不等于简单</tspan><tspan x="283" dy="13.3">，其实是我们换了一种思维，我们习惯做加法</tspan><tspan x="283" dy="13.3">，我们也可以尝试做减法，只要减的巧减的好</tspan><tspan x="283" dy="13.3">，就能够达到“减负增效”的结果。</tspan></text></g>
<g id="f5-3e1"><text class="t" x="49" y="4696.6"><tspan x="49">通过师生共同努力，本次高考学生考出了理想</tspan><tspan x="49" dy="13.3">的成绩。</tspan></text></g>
<g id="f5-l4"><text class="t e" x="672" y="5012.6">四、工作中需要改进的方面</text></g>
<g id="f5-4a"><text class="t" x="315" y="4925.6"><tspan x="315">1、对教材的研究还要深入。很多内容，还需</tspan><tspan x="315" dy="13.3">找到高考的切入点。从题目设置上看，有些题</tspan><tspan x="315" dy="13.3">缺乏对教材内容的发挥，不能很好的进行知识</tspan><tspan x="315" dy="13.3">迁移。</tspan></text></g>
<g id="f5-4b"><text class="t" x="315" y="5010.6"><tspan x="315">2、辅导效果要提高。辅导的学生比较多，要</tspan><tspan x="315" dy="13.3">找到更科学合理的辅导方法。</tspan></text></g>
<g id="f5-4c"><text class="t" x="315" y="5069.6"><tspan x="315">3、还要加强学生的临场应变能力和对知识的</tspan><tspan x="315" dy="13.3">分类能力，很多学生答题时在一个方面阐述过</tspan><tspan x="315" dy="13.3">多而不涉及其它。</tspan></text></g>

<g id="fan2"><rect x="1447" y="1204" width="208" height="30" rx="15" class="o"/><text class="b mid" x="1551" y="1223.5">中学德育与政治教学设计范文2</text></g>
<g id="f2-intro"><text class="t" x="1680" y="1202.6"><tspan x="1680">本学期我继续担任八年级思想品德课教学工作</tspan><tspan x="1680" dy="13.3">。新学期开始，为切实有效地搞好教育教学工</tspan><tspan x="1680" dy="13.3">作，顺利完成教学任务，使学生达到的学习效</tspan><tspan x="1680" dy="13.3">果，特将本学期的教学工作计划制定如下：</tspan></text></g>
<g id="f2-l1"><text class="t" x="1914" y="722.6">一、教材分析</text></g>
<g id="f2-1a"><text class="t" x="2005" y="657.6"><tspan x="2005">八年级下册思想品德教材共计10课，分4个单</tspan><tspan x="2005" dy="13.3">元，基础内容较多，需要学生认真掌握。其中</tspan><tspan x="2005" dy="13.3">也列举了相关案例，大部分是与学生日常生活</tspan><tspan x="2005" dy="13.3">接近的，起到导入的作用，个别部分也有起到</tspan><tspan x="2005" dy="13.3">总结作用，在这个从特殊到一般再到特殊的循</tspan><tspan x="2005" dy="13.3">环中，能够使学生掌握一般规律的基础知识，</tspan><tspan x="2005" dy="13.3">又能把学到的知识运用到实际案例中去，达到</tspan><tspan x="2005" dy="13.3">学以致用的目的。由于这册教材涉及到很多法</tspan><tspan x="2005" dy="13.3">律方面的内容，再加上学生接触面比较狭窄，</tspan><tspan x="2005" dy="13.3">课本又列举了相关链接知识，丰富了学生的知</tspan><tspan x="2005" dy="13.3">识量，有助于更好地学习思想品德课。</tspan></text></g>
<g id="f2-l2"><text class="t" x="1914" y="913.6">二、学生现状分析</text></g>
<g id="f2-2a"><text class="t" x="2025" y="834.6"><tspan x="2025">八年级学生女同学爱学上进，但部分男同学虽</tspan><tspan x="2025" dy="13.3">很聪明，但不爱学习，对于思想品德这门学科</tspan><tspan x="2025" dy="13.3">，基础知识及书写方面对他们来说是弱项，这</tspan><tspan x="2025" dy="13.3">还有待于采取恰当的方法去解决。八年级学生</tspan><tspan x="2025" dy="13.3">总的来说比较稳定，学习态度及氛围都比较好</tspan><tspan x="2025" dy="13.3">，学以致用恰恰是他们的弱点，这就需要让他</tspan><tspan x="2025" dy="13.3">们知道思想品德这门学科不单需要记忆一些基</tspan><tspan x="2025" dy="13.3">础知识，还需要灵活应用，来解决一些实际案</tspan><tspan x="2025" dy="13.3">例中存在的问题。由于我对个别的学生不是十</tspan><tspan x="2025" dy="13.3">分了解，这需要在今后的教学、生活与日常交</tspan><tspan x="2025" dy="13.3">往中，进一步了解、分析、及时发现，采取行</tspan><tspan x="2025" dy="13.3">之有效的方法对症下药，以便帮助学生形成正</tspan><tspan x="2025" dy="13.3">确的世界观、人生观与价值观。</tspan></text></g>
<g id="f2-l3"><text class="t" x="1914" y="1102.6">三、教学目标</text></g>
<g id="f2-3a"><text class="t" x="2005" y="1037.6"><tspan x="2005">1.掌握基础知识，达到汉字书写规范，理解基</tspan><tspan x="2005" dy="13.3">础知识的内涵。</tspan></text></g>
<g id="f2-3b"><text class="t" x="2005" y="1095.6"><tspan x="2005">2.学以致用，分析具体案例，进一步理解思想</tspan><tspan x="2005" dy="13.3">品德这门学科的意义。</tspan></text></g>
<g id="f2-3c"><text class="t" x="2005" y="1154.6"><tspan x="2005">3.通过学习帮助学生树立正确的世界观、人生</tspan><tspan x="2005" dy="13.3">观与价值观，做一个有用于社会的人。</tspan></text></g>
<g id="f2-l4"><text class="t" x="1914" y="1444.6">四、教学方法及措施</text></g>
<g id="f2-4a"><text class="t" x="2036" y="1212.6"><tspan x="2036">1.树立正确的教学观，以培养人为目的，为人</tspan><tspan x="2036" dy="13.3">师表，寓教于乐，促进学生身心健康成长。</tspan></text></g>
<g id="f2-4b"><text class="t" x="2036" y="1271.6"><tspan x="2036">2.按上级及学校的要求，认真备课。做到备教</tspan><tspan x="2036" dy="13.3">材、备学生、备知识、备教法，做到心中有书</tspan><tspan x="2036" dy="13.3">，熟练掌握教材，努力选择适合学生特点的教</tspan><tspan x="2036" dy="13.3">学方法。</tspan></text></g>
<g id="f2-4c"><text class="t" x="2036" y="1356.6"><tspan x="2036">3.认真上好每一节课，讲课时充分体现教师为</tspan><tspan x="2036" dy="13.3">主导、学生为主体的教学思想，突出重点、突</tspan><tspan x="2036" dy="13.3">破难点，抓住关键，精讲多练，及时对学生进</tspan><tspan x="2036" dy="13.3">行基础知识训练，提高起综合运用能力，同时</tspan><tspan x="2036" dy="13.3">进行思想教育，使学生在学好专业知识的同时</tspan><tspan x="2036" dy="13.3">养成良好的道德观念。</tspan></text></g>
<g id="f2-4d"><text class="t" x="2036" y="1468.6"><tspan x="2036">4.搞好学生课前预习，让学生提前对课文有大</tspan><tspan x="2036" dy="13.3">体的了解，培养学生的自学能力。做到课堂有</tspan><tspan x="2036" dy="13.3">练习、课后有作业，并且当堂的知识当堂消化</tspan><tspan x="2036" dy="13.3">有效地提高学生的学习效率。搞好课前、课中</tspan><tspan x="2036" dy="13.3">两个提问;做好课堂、单元、期中、期末测验</tspan><tspan x="2036" dy="13.3">的准备及分析总结工作。</tspan></text></g>
<g id="f2-4e"><text class="t" x="2036" y="1579.6"><tspan x="2036">5.认真做好后进生的工作。以鼓励为主，不轻</tspan><tspan x="2036" dy="13.3">易批评。帮助学生分析原因，建立自信心，并</tspan><tspan x="2036" dy="13.3">结合授课因材施教，教给他们学习的方法与策</tspan><tspan x="2036" dy="13.3">略，提高其学习兴趣。</tspan></text></g>
<g id="f2-4f"><text class="t" x="2036" y="1664.6"><tspan x="2036">6.虚心学习，取人之长，补己之短，不断提高</tspan><tspan x="2036" dy="13.3">自身的业务素质。</tspan></text></g>
<g id="f2-l5"><text class="t" x="1914" y="1721.6">五、教学进度安排(略)</text></g>

<g id="fan4"><rect x="1446" y="2734" width="209" height="29" rx="14.5" class="o"/><text class="b mid" x="1550.5" y="2753">中学德育与政治教学设计范文4</text></g>
<g id="f4-l1"><text class="t" x="1680" y="1865.6">【三维目标】</text></g>
<g id="f4-1a"><text class="t" x="1771" y="1768.6"><tspan x="1771">1.情感、态度、价值观目标：尊重教师，理解</tspan><tspan x="1771" dy="13.3">教师的工作特点，增进与教师的感情，正确对</tspan><tspan x="1771" dy="13.3">待与教师交往中的问题与困惑，以积极的心态</tspan><tspan x="1771" dy="13.3">与老师交往，建立和谐的师生关系。</tspan></text></g>
<g id="f4-1b"><text class="t" x="1771" y="1852.6"><tspan x="1771">2.能力目标：从心理换位的角度正确认识和对</tspan><tspan x="1771" dy="13.3">待师生关系及其可能产生的矛盾，提高与教师</tspan><tspan x="1771" dy="13.3">进行积极沟通的能力.通过小品、讨论等形式</tspan><tspan x="1771" dy="13.3">，培养合作交流的能力。</tspan></text></g>
<g id="f4-1c"><text class="t" x="1771" y="1937.6"><tspan x="1771">3.知识目标：了解与教师交往与沟通的一些基</tspan><tspan x="1771" dy="13.3">本途径和技巧，了解教师工作的基本特点。</tspan></text></g>
<g id="f4-l2"><text class="t" x="1680" y="2001.6">【重点难点】</text></g>
<g id="f4-2a"><text class="t" x="1771" y="1995.6"><tspan x="1771">理解教师，正确对待教师的表扬和批评，正确</tspan><tspan x="1771" dy="13.3">认识和评价师生矛盾。</tspan></text></g>
<g id="f4-l3"><text class="t" x="1680" y="2140.6">【学情分析】</text></g>
<g id="f4-3a"><text class="t" x="1771" y="2054.6"><tspan x="1771">七年级的学生正步人青春期，他们中有些可能</tspan><tspan x="1771" dy="13.3">仍然保持孩童的活泼和外露，但闭锁心理的出</tspan><tspan x="1771" dy="13.3">现、自我意识的觉醒、独立意识的增强和性心</tspan><tspan x="1771" dy="13.3">理的萌芽，会慢慢地改变学生的交往状况。一</tspan><tspan x="1771" dy="13.3">方面，学生需要友谊，渴望得到朋友的信赖和</tspan><tspan x="1771" dy="13.3">尊重，需要长辈的关爱和重视。温馨融洽和谐</tspan><tspan x="1771" dy="13.3">的师生关系，是他们健康成长中不可缺少的精</tspan><tspan x="1771" dy="13.3">神营养。和老师愉快相处，不仅有利于学生良</tspan><tspan x="1771" dy="13.3">好个性的形成，也让他们的生活充满乐趣，学</tspan><tspan x="1771" dy="13.3">习更自信更轻松。另一方面，受学生心理年龄</tspan><tspan x="1771" dy="13.3">特征和经验的限制，很多学生不能恰当地理解</tspan><tspan x="1771" dy="13.3">相处之道。学生受到老师的表扬与批评，尤其</tspan><tspan x="1771" dy="13.3">是受到老师的批评，不知如何控制自己的情绪</tspan><tspan x="1771" dy="13.3">，也容易导致师生交往中的各种隔阂。</tspan></text></g>
<g id="f4-l4"><text class="t" x="1680" y="2310.6">【教学方法】</text></g>
<g id="f4-4a"><text class="t" x="1771" y="2270.6"><tspan x="1771">采用自主学习、小组合作学习，突出学生的主</tspan><tspan x="1771" dy="13.3">体地位，面向全体学生，重视学生的个性差异</tspan><tspan x="1771" dy="13.3">。教师应该更多地以聆听者、支持者、协商者</tspan><tspan x="1771" dy="13.3">的身份进入课堂，为学生创设各种情境和氛围</tspan><tspan x="1771" dy="13.3">，设计多种活动，在活动中创设师生、生生之</tspan><tspan x="1771" dy="13.3">间交流的情景，增进学生的亲身体验，锻炼实</tspan><tspan x="1771" dy="13.3">际的交往能力。</tspan></text></g>
<g id="f4-l5"><text class="t" x="1680" y="2619.6">【教学过程】</text></g>
<g id="f4-5a"><text class="t" x="1771" y="2424.6">一、歌曲导入</text></g>
<g id="f4-5a1"><text class="t" x="1861" y="2395.6">1.学生欣赏歌曲：《长大后我就成了你》。</text></g>
<g id="f4-5a2"><text class="t" x="1861" y="2440.6"><tspan x="1861">2.这首歌表达了一个什么样的情感和愿望?你</tspan><tspan x="1861" dy="13.3">愿意长大后也成为歌中的哪个“你”吗?说说你</tspan><tspan x="1861" dy="13.3">的想法。</tspan></text></g>
<g id="f4-5a3"><text class="t" x="2095" y="2447.6"><tspan x="2095">(不管学生是愿意还是不愿意，注意作正面引</tspan><tspan x="2095" dy="13.3">导)</tspan></text></g>
<g id="f4-5b"><text class="t" x="1771" y="2519.6">二、心情故事</text></g>
<g id="f4-5b1"><text class="t" x="1861" y="2512.6"><tspan x="1861">说说你的故事：你印象最深的一位老师是谁?</tspan><tspan x="1861" dy="13.3">他(她)为什么给你留下了深刻的印象?</tspan></text></g>
<g id="f4-5c"><text class="t" x="1771" y="2815.6">三、交流与沟通</text></g>
<g id="f4-5c1"><text class="t" x="1871" y="2571.6"><tspan x="1871">1.分组讨论：从你的认识出发，你认为教师这</tspan><tspan x="1871" dy="13.3">门职业与其他职业有哪些方面的不同?师：教</tspan><tspan x="1871" dy="13.3">师的这一职业特性决定了他们对自身和他们的</tspan><tspan x="1871" dy="13.3">工作要求非常高，特别是我们学生对教师有更</tspan><tspan x="1871" dy="13.3">高的期望。但教师也是人，也有被社会特别是</tspan><tspan x="1871" dy="13.3">被我们学生尊重、理解、关心和帮助的需要。</tspan><tspan x="1871" dy="13.3">我们不仅要了解老师对学生的期望，更要理解</tspan><tspan x="1871" dy="13.3">老师也可能出现过错，特别是当被老师批评或</tspan><tspan x="1871" dy="13.3">与师生之间发生不愉快的事情时，要理解老师</tspan><tspan x="1871" dy="13.3">的苦衷。</tspan></text></g>
<g id="f4-5c2"><text class="t" x="1871" y="2823.6">2.小品：老师，你错怪了我。</text></g>
<g id="f4-5c2a"><text class="t" x="2033" y="2734.6"><tspan x="2033">(故事内容：小王同学在语文课上正认真地听</tspan><tspan x="2033" dy="13.3">讲，邻座同学传过来一张纸条，约他放学后去</tspan><tspan x="2033" dy="13.3">打篮球。小王随即把纸条退还给了那个同学，</tspan><tspan x="2033" dy="13.3">并轻声劝告：“上课不要传纸条!”谁知被_发现</tspan><tspan x="2033" dy="13.3">了，马上批评了小王上课传纸条、随便讲话的</tspan><tspan x="2033" dy="13.3">行为。当时，小王同学有口难言，十分委屈...</tspan><tspan x="2033" dy="13.3">...)</tspan></text></g>
<g id="f4-5c2b"><text class="t" x="2033" y="2858.6"><tspan x="2033">请你帮他出出主意：这时小王该怎么办?你在</tspan><tspan x="2033" dy="13.3">生活中遇到过这样的问题吗?你是怎样处理的?</tspan><tspan x="2033" dy="13.3">说出来与大家交流一下。</tspan></text></g>
<g id="f4-5c3"><text class="t" x="1871" y="2993.6"><tspan x="1871">3.课堂调查：受到过老师的批评和表扬的情况</tspan><tspan x="1871" dy="13.3">，(采用举手的方式)</tspan></text></g>
<g id="f4-5c3a"><text class="t" x="2105" y="2930.6">讨论：(1)老师对我们有哪些期望或要求?</text></g>
<g id="f4-5c3b"><text class="t" x="2105" y="3067.6">(2)我们该怎样看待老师的批评和表扬?</text></g>
<g id="f4-5c3b1"><text class="t" x="2306" y="2975.6"><tspan x="2306">师：有些同学说得很对，我们也要理解老师，</tspan><tspan x="2306" dy="13.3">老师对我们的批评表扬都体现出对我们</tspan></text></g>
<g id="f4-5c3b2"><text class="t" x="2306" y="3034.6"><tspan x="2306">的期望，我们不仅要理解这些，更要理解老师</tspan><tspan x="2306" dy="13.3">也可能出现某种过错，特别是当被老师批评</tspan></text></g>
<g id="f4-5c3b3"><text class="t" x="2306" y="3093.6"><tspan x="2306">或与老师之间发生某种不愉快的事情时，要理</tspan><tspan x="2306" dy="13.3">解老师的苦衷，自觉反省自我，切不可对老</tspan></text></g>
<g id="f4-5c3b4"><text class="t" x="2306" y="3151.6">师求全责备，更不应该怀恨在心。</text></g>
<g id="f4-l6"><text class="t" x="1680" y="3196.6">【课后作业】</text></g>
<g id="f4-6a"><text class="t" x="1771" y="3196.6">《基础训练》P15训练一</text></g>
<g id="f4-l7"><text class="t" x="1680" y="3378.6">【板书设计】</text></g>
<g id="f4-7a"><text class="t" x="1771" y="3242.6">教师教师的职业特点</text></g>
<g id="f4-7b"><text class="t" x="1771" y="3287.6">批正</text></g>
<g id="f4-7c"><text class="t" x="1771" y="3333.6">评确</text></g>
<g id="f4-7d"><text class="t" x="1771" y="3378.6">正视师生矛盾与理</text></g>
<g id="f4-7e"><text class="t" x="1771" y="3423.6">表解</text></g>
<g id="f4-7f"><text class="t" x="1771" y="3469.6">扬</text></g>
<g id="f4-7g"><text class="t" x="1771" y="3514.6">学生学生自身特点</text></g>
<g id="f4-l8"><text class="t" x="1680" y="3638.6">【注意事项】</text></g>
<g id="f4-8a"><text class="t" x="1771" y="3560.6">1.注意正面引导。</text></g>
<g id="f4-8b"><text class="t" x="1771" y="3605.6">2.分组讨论要注意对主题的提示。</text></g>
<g id="f4-8c"><text class="t" x="1771" y="3650.6"><tspan x="1771">3.欣赏小品时注意既要让学生说真话，又要让</tspan><tspan x="1771" dy="13.3">学生有正确的价值判断。</tspan></text></g>
<g id="f4-8d"><text class="t" x="1771" y="3709.6"><tspan x="1771">4.注意发挥学生的主体性，放手让学生表达自</tspan><tspan x="1771" dy="13.3">己的思想。</tspan></text></g>

<g id="related"><rect x="1446" y="3945" width="252" height="47" rx="23.5" class="o"/><text class="b" x="1470" y="3964.6"><tspan x="1470">中学德育与政治教学设计5篇相关</tspan><tspan x="1470" dy="17">文章：</tspan></text></g>
<g id="r1"><text class="t" x="1724" y="3767.6">★ 八年级政治课教学设计与方案5篇</text></g>
<g id="r2"><text class="t" x="1724" y="3813.6">★ 政治教学计划初中5篇</text></g>
<g id="r3"><text class="t" x="1724" y="3858.6">★ 新学期中学政治理论课教学计划5篇</text></g>
<g id="r4"><text class="t" x="1724" y="3904.6">★ 七年级上思想品德教案5篇</text></g>
<g id="r5"><text class="t" x="1724" y="3949.6">★ 教学设计初一政治整理方案5篇</text></g>
<g id="r6"><text class="t" x="1724" y="3994.6">★ 初三上册政治教学设计范文5篇</text></g>
<g id="r7"><text class="t" x="1724" y="4039.6">★ 政治教学工作计划分析5篇</text></g>
<g id="r8"><text class="t" x="1724" y="4085.6">★ 政治个人教学计划范文5篇</text></g>
<g id="r9"><text class="t" x="1724" y="4130.6">★ 高中政治教学设计素材五篇</text></g>
<g id="r10"><text class="t" x="1724" y="4175.6">★ 七年级思想品德学科渗透法制教育教案5篇</text></g>
</g>
</svg>
